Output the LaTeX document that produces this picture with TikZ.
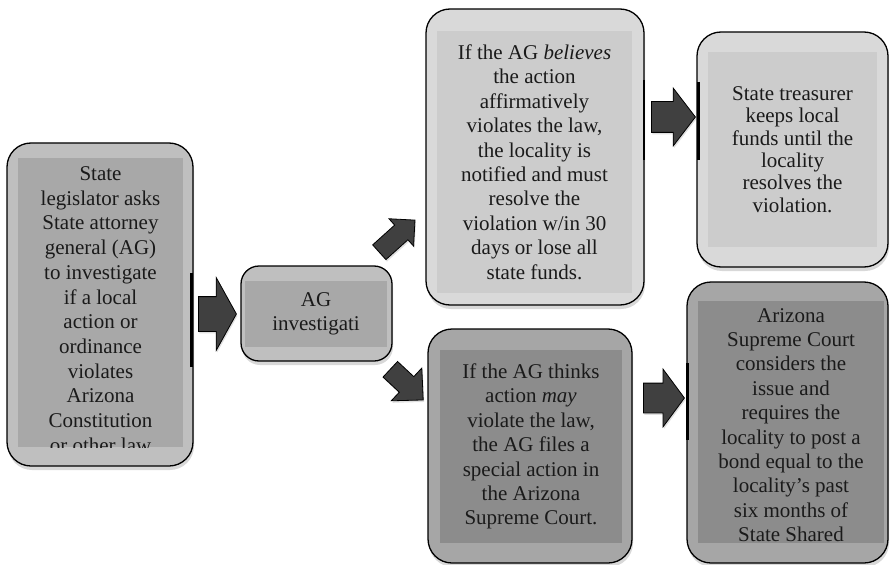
\documentclass[tikz,border=0pt]{standalone}
\usepackage{fontspec}
\setmainfont{Liberation Serif}
\usetikzlibrary{shapes.arrows,shadows}
\definecolor{midout}{HTML}{BFBFBF}
\definecolor{midin}{HTML}{A8A8A8}
\definecolor{lightout}{HTML}{D9D9D9}
\definecolor{lightin}{HTML}{CCCCCC}
\definecolor{darkout}{HTML}{A6A6A6}
\definecolor{darkin}{HTML}{8C8C8C}
\definecolor{arrowfill}{HTML}{404040}
\definecolor{textgray}{HTML}{1A1A1A}
\begin{document}
\begin{tikzpicture}[x=1pt, y=-1pt,
  outerbox/.style={draw=black, line width=1.3pt, rounded corners=24pt, inner sep=0pt,
    drop shadow={shadow xshift=1pt, shadow yshift=-4pt, opacity=0.3}},
  innerbox/.style={inner sep=0pt, align=center, text=textgray,
    font=\fontsize{21}{24.4}\selectfont},
  blockarrow/.style={single arrow, draw=black, line width=0.8pt, fill=arrowfill,
    inner xsep=0pt, single arrow head indent=0pt, anchor=tail,
    drop shadow={shadow xshift=1pt, shadow yshift=-2pt, opacity=0.25}},
  edgebar/.style={line width=2.8pt, line cap=butt}]
  \useasboundingbox[fill=white] (0,0) rectangle (890,564);

  % request from the legislator
  \node[outerbox, fill=midout, minimum width=186pt, minimum height=323pt] (src) at (100,304.5) {};
  \node[innerbox, fill=midin, minimum width=165pt, minimum height=289pt] (srcin) at (100.5,302.5) {};
  \begin{scope}
    \clip (srcin.south west) rectangle (srcin.north east);
    \node[innerbox, font=\fontsize{21}{24.7}\selectfont] (srctxt) at ([yshift=-7pt]srcin.center) {State\\legislator asks\\State attorney\\general (AG)\\to investigate\\if a local\\action or\\ordinance\\violates\\Arizona\\Constitution\\or other law};
  \end{scope}

  % investigation
  \node[outerbox, fill=midout, rounded corners=18pt, minimum width=151pt, minimum height=95pt] (inv) at (316.5,313.5) {};
  \node[innerbox, fill=midin, minimum width=142pt, minimum height=66pt] (invin) at (316,314) {AG\\investigati};

  % upper branch
  \node[outerbox, fill=lightout, minimum width=218pt, minimum height=296pt] (believe) at (535,157) {};
  \node[innerbox, fill=lightin, minimum width=195pt, minimum height=262pt] (believein) at (534.5,162)
    {If the AG \textit{believes}\\the action\\affirmatively\\violates the law,\\the locality is\\notified and must\\resolve the\\violation w/in 30\\days or lose all\\state funds.};
  \node[outerbox, fill=lightout, minimum width=191pt, minimum height=235pt] (treas) at (792.5,149.5) {};
  \node[innerbox, fill=lightin, minimum width=169pt, minimum height=195pt, font=\fontsize{21}{22.3}\selectfont] (treasin) at (792.5,149.5)
    {State treasurer\\keeps local\\funds until the\\locality\\resolves the\\violation.};

  % lower branch
  \node[outerbox, fill=darkout, minimum width=204pt, minimum height=234pt] (thinks) at (530,446) {};
  \node[innerbox, fill=darkin, minimum width=182pt, minimum height=193pt] (thinksin) at (531,446.5)
    {If the AG thinks\\action \textit{may}\\violate the law,\\the AG files a\\special action in\\the Arizona\\Supreme Court.};
  \node[outerbox, fill=darkout, minimum width=201pt, minimum height=281pt] (court) at (787.5,422.5) {};
  \node[innerbox, fill=darkin, minimum width=186pt, minimum height=242pt] (courtin) at (791,422) {};
  \begin{scope}
    \clip (courtin.south west) rectangle (courtin.north east);
    \node[innerbox] (courttxt) at ([yshift=-3pt]courtin.center) {Arizona\\Supreme Court\\considers the\\issue and\\requires the\\locality to post a\\bond equal to the\\locality’s past\\six months of\\State Shared};
  \end{scope}

  % thick edge marks
  \draw[edgebar] (191.5,273) -- (191.5,367);
  \draw[edgebar] (644,80) -- (644,160);
  \draw[edgebar] (698.5,82) -- (698.5,160);
  \draw[edgebar] (687.5,363) -- (687.5,440);

  % block arrows
  \node[blockarrow, minimum height=38pt, inner ysep=17pt, single arrow head extend=19pt, single arrow tip angle=122] (a1) at (198,314) {};
  \node[blockarrow, rotate=42, minimum height=48pt, inner ysep=9.5pt, single arrow head extend=8.5pt, single arrow tip angle=90] (a2) at (379,252.5) {};
  \node[blockarrow, rotate=-43, minimum height=45pt, inner ysep=10.25pt, single arrow head extend=11.75pt, single arrow tip angle=89] (a3) at (390,369) {};
  \node[blockarrow, minimum height=44pt, inner ysep=15pt, single arrow head extend=13.5pt, single arrow tip angle=105] (a4) at (651,117) {};
  \node[blockarrow, minimum height=41pt, inner ysep=14.5pt, single arrow head extend=14pt, single arrow tip angle=107] (a5) at (643,398) {};
\end{tikzpicture}
\end{document}
